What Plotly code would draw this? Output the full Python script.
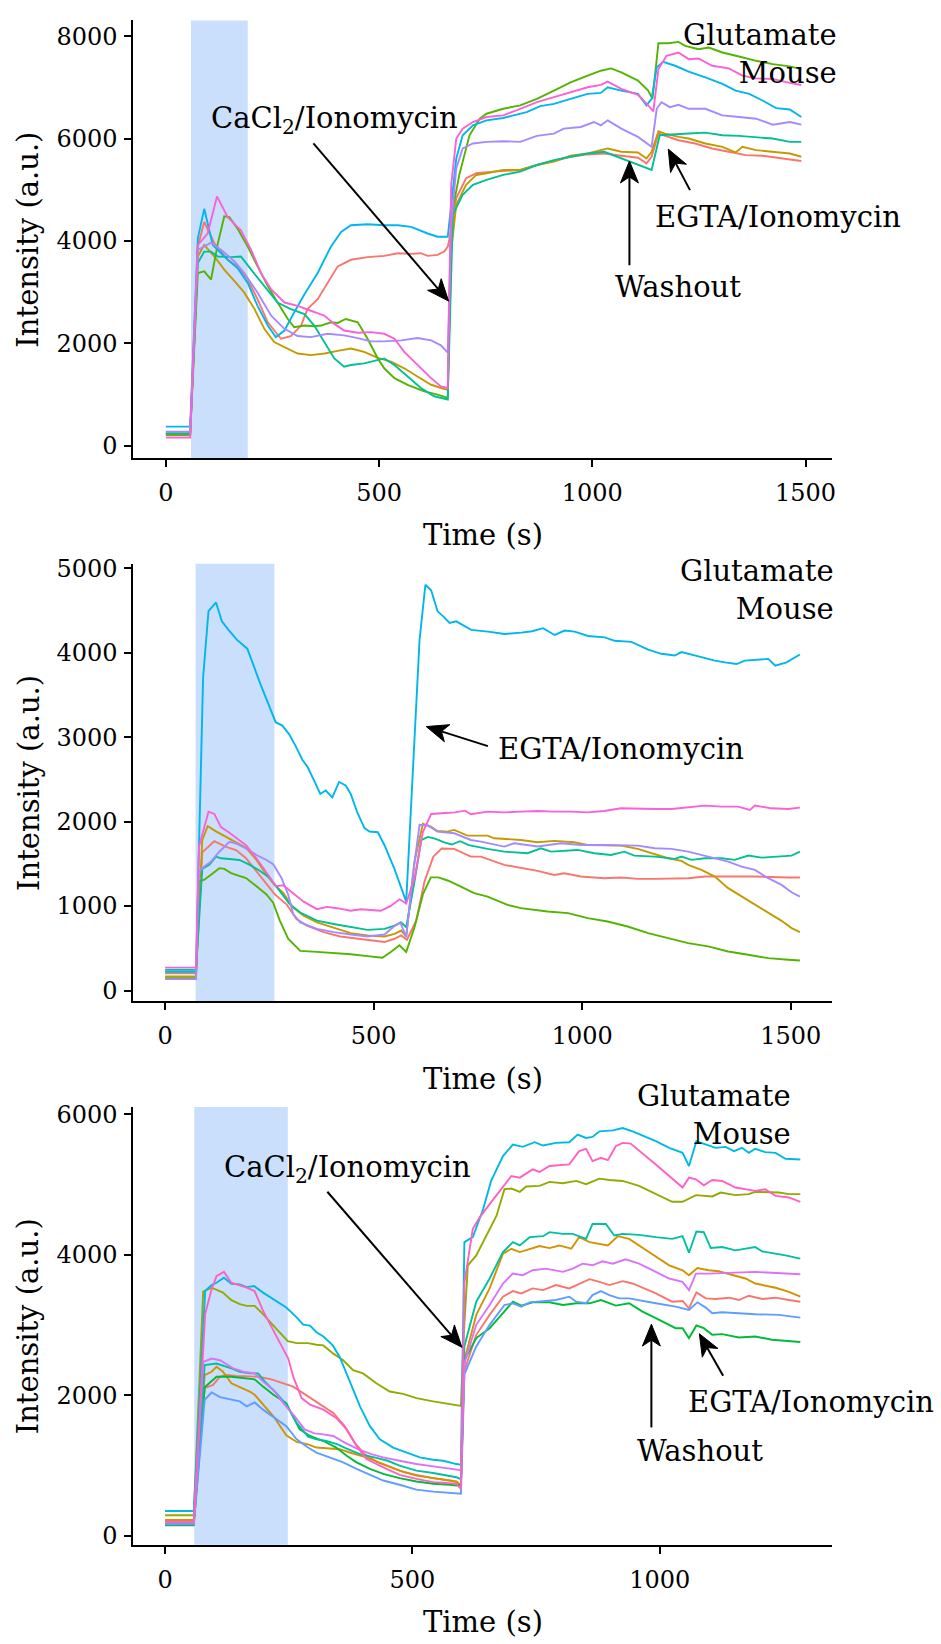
import math
import plotly.graph_objects as go

SERIF = "DejaVu Serif"

# ---------------- Panel 1 ----------------
p1_red_t = [0, 57, 75, 90, 114, 145, 168, 192, 215, 239, 270, 293, 317, 332, 356, 379, 403, 434, 473, 512, 544, 575, 598, 614, 637, 653, 661, 669, 681, 704, 728, 767, 799, 831, 870, 910, 949, 989, 1028, 1068, 1107, 1127, 1139, 1155, 1178, 1202, 1241, 1281, 1320, 1360, 1399, 1447, 1490]
p1_red_y = [200, 200, 3890, 4372, 3954, 3633, 3504, 3247, 2861, 2411, 2089, 2141, 2347, 2668, 2861, 3182, 3504, 3633, 3684, 3710, 3761, 3748, 3761, 3710, 3729, 3793, 3890, 4192, 4839, 5227, 5324, 5357, 5370, 5389, 5486, 5564, 5648, 5693, 5712, 5667, 5628, 5518, 5648, 6101, 6036, 5971, 5907, 5810, 5745, 5680, 5667, 5615, 5564]

p1_gold_t = [0, 57, 75, 90, 114, 137, 161, 184, 208, 231, 254, 278, 309, 340, 372, 403, 434, 465, 497, 528, 559, 590, 622, 653, 661, 669, 681, 704, 728, 752, 791, 831, 870, 910, 949, 989, 1036, 1068, 1107, 1127, 1139, 1155, 1170, 1202, 1226, 1265, 1305, 1336, 1352, 1384, 1423, 1463, 1490]
p1_gold_y = [230, 230, 3697, 3922, 3697, 3440, 3215, 2990, 2668, 2283, 2025, 1929, 1800, 1768, 1800, 1852, 1897, 1832, 1716, 1640, 1511, 1350, 1189, 1106, 1093, 3804, 4710, 5098, 5292, 5324, 5389, 5389, 5486, 5551, 5667, 5712, 5810, 5745, 5732, 5615, 5745, 6146, 6101, 6036, 6004, 5907, 5842, 5732, 5842, 5777, 5745, 5712, 5648]

p1_green_t = [0, 57, 75, 90, 106, 122, 137, 149, 168, 192, 215, 239, 262, 286, 301, 325, 348, 364, 387, 403, 422, 450, 473, 497, 512, 536, 567, 606, 637, 661, 669, 688, 712, 736, 752, 791, 831, 870, 910, 949, 989, 1020, 1044, 1068, 1107, 1131, 1141, 1155, 1178, 1202, 1218, 1249, 1273, 1305, 1344, 1384, 1423, 1463, 1490]
p1_green_y = [210, 210, 3375, 3408, 3247, 3954, 4481, 4468, 4243, 3890, 3504, 3118, 2797, 2475, 2314, 2347, 2334, 2347, 2411, 2398, 2475, 2411, 2089, 1704, 1511, 1318, 1189, 1060, 996, 932, 4451, 5292, 6068, 6392, 6489, 6586, 6651, 6780, 6942, 7104, 7233, 7330, 7375, 7298, 7136, 6942, 6780, 7867, 7867, 7893, 7815, 7750, 7783, 7686, 7608, 7524, 7459, 7414, 7362]

p1_teal_t = [0, 57, 75, 90, 106, 122, 153, 176, 200, 231, 262, 293, 325, 348, 372, 395, 418, 434, 465, 489, 512, 536, 567, 598, 629, 661, 673, 696, 720, 752, 791, 831, 870, 910, 949, 989, 1028, 1068, 1107, 1139, 1158, 1178, 1226, 1265, 1305, 1344, 1384, 1423, 1463, 1490]
p1_teal_y = [240, 240, 3568, 3793, 3793, 3697, 3684, 3697, 3440, 3118, 2797, 2668, 2571, 2347, 2025, 1704, 1543, 1575, 1607, 1652, 1704, 1575, 1350, 1125, 964, 900, 4516, 4904, 5098, 5195, 5292, 5357, 5486, 5583, 5648, 5712, 5745, 5615, 5486, 5389, 6068, 6081, 6101, 6120, 6068, 6055, 6036, 6004, 5939, 5939]

p1_cyan_t = [0, 57, 75, 90, 110, 145, 168, 192, 215, 239, 258, 278, 301, 325, 356, 387, 411, 434, 473, 512, 544, 575, 614, 637, 661, 669, 681, 696, 720, 752, 791, 815, 846, 878, 910, 949, 989, 1020, 1036, 1068, 1107, 1127, 1139, 1151, 1166, 1194, 1226, 1265, 1305, 1336, 1368, 1399, 1431, 1463, 1490]
p1_cyan_y = [370, 370, 4051, 4629, 3922, 3633, 3472, 3182, 2732, 2347, 2121, 2250, 2604, 2957, 3375, 3890, 4179, 4308, 4327, 4308, 4308, 4276, 4147, 4083, 4083, 4710, 5615, 6068, 6262, 6360, 6405, 6457, 6521, 6638, 6683, 6780, 6877, 6897, 7006, 6942, 6877, 6651, 6780, 7395, 7505, 7427, 7311, 7201, 7071, 6942, 6877, 6748, 6599, 6573, 6424]

p1_purple_t = [0, 57, 75, 106, 130, 161, 184, 215, 247, 278, 309, 340, 379, 418, 450, 481, 512, 552, 590, 622, 645, 661, 669, 681, 696, 720, 752, 791, 831, 870, 910, 933, 973, 1004, 1020, 1036, 1068, 1107, 1139, 1151, 1162, 1182, 1202, 1226, 1265, 1305, 1344, 1384, 1423, 1463, 1490]
p1_purple_y = [270, 270, 3825, 3967, 3825, 3600, 3375, 2990, 2539, 2283, 2141, 2121, 2186, 2154, 2102, 2038, 2038, 2057, 2102, 2057, 1961, 1819, 4322, 5421, 5809, 5907, 5939, 5952, 5939, 6055, 6101, 6198, 6230, 6327, 6262, 6360, 6198, 6036, 5842, 6586, 6715, 6618, 6664, 6586, 6586, 6457, 6424, 6392, 6275, 6327, 6275]

p1_pink_t = [0, 57, 75, 98, 120, 145, 176, 200, 223, 247, 278, 309, 340, 372, 395, 418, 450, 481, 512, 536, 559, 590, 622, 645, 661, 669, 681, 696, 720, 752, 791, 831, 870, 910, 949, 989, 1020, 1036, 1068, 1107, 1131, 1143, 1155, 1174, 1202, 1226, 1249, 1281, 1320, 1352, 1384, 1423, 1463, 1490]
p1_pink_y = [155, 155, 3922, 4147, 4873, 4468, 4211, 3825, 3375, 3054, 2797, 2732, 2636, 2539, 2379, 2250, 2205, 2218, 2186, 2089, 1832, 1575, 1318, 1157, 1125, 5098, 6004, 6198, 6327, 6424, 6457, 6586, 6715, 6812, 6909, 7006, 7052, 7117, 6974, 6858, 6651, 6534, 7362, 7621, 7686, 7556, 7569, 7427, 7375, 7233, 7181, 7168, 7091, 7052]

# ---------------- Panel 2 ----------------
p2_red_t = [0, 74, 89, 118, 146, 170, 194, 219, 243, 263, 291, 315, 340, 380, 420, 461, 501, 526, 550, 566, 580, 602, 622, 643, 663, 693, 733, 757, 813, 853, 893, 933, 957, 997, 1053, 1093, 1133, 1174, 1254, 1294, 1414, 1494, 1522]
p2_red_y = [205, 205, 1636, 1768, 1702, 1663, 1566, 1410, 1255, 1138, 1021, 846, 768, 691, 640, 613, 594, 574, 613, 652, 601, 827, 1293, 1585, 1682, 1677, 1586, 1586, 1488, 1456, 1417, 1369, 1389, 1350, 1330, 1338, 1322, 1322, 1330, 1350, 1350, 1338, 1338]

p2_gold_t = [0, 74, 89, 102, 122, 146, 170, 194, 219, 243, 263, 283, 307, 332, 364, 404, 445, 485, 526, 550, 566, 578, 598, 618, 637, 653, 677, 693, 725, 773, 789, 853, 893, 933, 981, 1013, 1093, 1133, 1165, 1206, 1238, 1254, 1286, 1318, 1350, 1382, 1414, 1454, 1478, 1502, 1522]
p2_gold_y = [166, 166, 1780, 1947, 1885, 1818, 1760, 1690, 1546, 1371, 1247, 1157, 982, 885, 807, 741, 679, 652, 640, 671, 710, 640, 1527, 1974, 1941, 1889, 1882, 1902, 1835, 1835, 1803, 1783, 1756, 1772, 1756, 1724, 1716, 1677, 1626, 1567, 1535, 1488, 1429, 1350, 1212, 1113, 1015, 896, 825, 739, 691]

p2_green_t = [0, 74, 81, 94, 110, 130, 142, 158, 174, 194, 219, 243, 259, 275, 295, 324, 364, 404, 445, 485, 521, 541, 562, 578, 598, 618, 637, 655, 679, 709, 741, 773, 821, 853, 917, 966, 1013, 1061, 1109, 1158, 1206, 1254, 1302, 1350, 1398, 1446, 1494, 1522]
p2_green_y = [146, 146, 1293, 1313, 1371, 1449, 1441, 1391, 1363, 1332, 1235, 1138, 1041, 827, 613, 469, 457, 446, 430, 407, 388, 457, 535, 457, 749, 1138, 1340, 1340, 1300, 1231, 1153, 1113, 1015, 975, 936, 916, 857, 817, 758, 679, 620, 561, 522, 462, 423, 383, 364, 356]

p2_teal_t = [0, 74, 89, 106, 122, 134, 154, 178, 203, 227, 251, 275, 299, 324, 364, 404, 445, 485, 526, 550, 566, 578, 598, 614, 630, 647, 671, 687, 707, 728, 773, 813, 869, 901, 925, 989, 1029, 1069, 1101, 1125, 1174, 1222, 1238, 1262, 1294, 1334, 1366, 1398, 1430, 1462, 1502, 1522]
p2_teal_y = [244, 244, 1441, 1488, 1585, 1566, 1558, 1546, 1488, 1418, 1332, 1177, 1021, 924, 827, 788, 749, 718, 730, 769, 807, 749, 1293, 1780, 1819, 1799, 1752, 1729, 1768, 1721, 1677, 1645, 1626, 1685, 1645, 1665, 1626, 1606, 1645, 1598, 1586, 1559, 1586, 1547, 1567, 1567, 1547, 1598, 1574, 1586, 1598, 1645]

p2_cyan_t = [0, 74, 91, 104, 122, 136, 152, 173, 197, 229, 265, 281, 297, 313, 329, 341, 357, 372, 385, 401, 417, 433, 445, 461, 478, 490, 510, 526, 550, 578, 610, 624, 638, 653, 666, 682, 698, 718, 734, 774, 814, 854, 880, 906, 934, 958, 982, 1014, 1054, 1078, 1118, 1158, 1190, 1222, 1238, 1286, 1318, 1342, 1370, 1390, 1422, 1446, 1463, 1490, 1522]
p2_cyan_y = [223, 223, 3705, 4494, 4596, 4373, 4272, 4150, 4049, 3624, 3178, 3138, 3037, 2895, 2733, 2652, 2490, 2328, 2369, 2288, 2470, 2429, 2328, 2106, 1923, 1883, 1875, 1721, 1437, 1053, 4150, 4806, 4737, 4494, 4434, 4353, 4373, 4312, 4272, 4251, 4223, 4239, 4255, 4292, 4211, 4264, 4251, 4199, 4183, 4142, 4130, 4037, 3988, 3968, 4008, 3948, 3907, 3887, 3867, 3907, 3915, 3928, 3847, 3887, 3980]

p2_purple_t = [0, 74, 81, 94, 110, 130, 154, 170, 194, 219, 243, 259, 279, 295, 307, 324, 364, 404, 445, 485, 526, 546, 564, 578, 594, 610, 630, 653, 693, 733, 757, 813, 837, 893, 949, 997, 1053, 1093, 1133, 1174, 1214, 1254, 1286, 1318, 1350, 1382, 1414, 1446, 1478, 1502, 1522]
p2_purple_y = [135, 135, 1410, 1468, 1527, 1644, 1760, 1741, 1682, 1605, 1546, 1496, 1332, 1138, 905, 807, 730, 691, 663, 640, 663, 749, 807, 632, 1371, 1962, 1955, 1882, 1862, 1783, 1764, 1705, 1744, 1705, 1744, 1724, 1724, 1716, 1716, 1685, 1677, 1645, 1606, 1567, 1527, 1468, 1429, 1330, 1251, 1164, 1113]

p2_pink_t = [0, 74, 81, 104, 118, 134, 154, 174, 194, 219, 243, 266, 283, 307, 332, 364, 388, 412, 445, 469, 493, 517, 541, 562, 578, 598, 618, 638, 671, 695, 719, 733, 773, 813, 853, 893, 933, 973, 1013, 1053, 1093, 1133, 1174, 1214, 1254, 1294, 1334, 1374, 1402, 1414, 1454, 1494, 1522]
p2_pink_y = [271, 271, 1700, 2118, 2091, 1935, 1869, 1799, 1721, 1566, 1391, 1235, 1247, 1157, 1052, 963, 990, 975, 944, 963, 951, 944, 1002, 1080, 1029, 1332, 1877, 2091, 2102, 2110, 2130, 2087, 2119, 2110, 2119, 2126, 2119, 2119, 2110, 2126, 2158, 2150, 2150, 2150, 2166, 2190, 2178, 2178, 2138, 2190, 2158, 2150, 2166]

# ---------------- Panel 3 ----------------
p3_red_t = [0, 58, 80, 97, 111, 124, 144, 165, 188, 215, 239, 259, 279, 299, 320, 340, 363, 383, 403, 430, 457, 484, 508, 542, 575, 589, 598, 605, 629, 656, 683, 703, 720, 743, 764, 790, 817, 841, 858, 878, 898, 925, 945, 992, 1025, 1046, 1059, 1074, 1093, 1113, 1140, 1160, 1180, 1207, 1234, 1261, 1284]
p3_red_y = [203, 203, 2102, 2149, 2266, 2289, 2275, 2266, 2266, 2228, 2172, 2125, 2032, 1938, 1844, 1750, 1562, 1328, 1164, 1047, 976, 906, 869, 822, 789, 766, 700, 2350, 2862, 3145, 3404, 3484, 3451, 3522, 3498, 3569, 3522, 3592, 3653, 3616, 3569, 3625, 3592, 3451, 3333, 3343, 3239, 3465, 3380, 3371, 3390, 3357, 3418, 3371, 3390, 3357, 3333]

p3_orange_t = [0, 58, 80, 94, 104, 117, 134, 151, 171, 181, 198, 219, 245, 266, 289, 306, 333, 353, 373, 407, 441, 474, 508, 542, 575, 589, 598, 605, 629, 656, 683, 700, 717, 737, 757, 777, 797, 821, 837, 858, 878, 895, 915, 938, 978, 1019, 1046, 1059, 1076, 1099, 1119, 1146, 1173, 1193, 1234, 1261, 1284]
p3_orange_y = [228, 228, 2289, 2336, 2407, 2336, 2172, 2116, 2055, 2008, 1867, 1703, 1431, 1337, 1304, 1258, 1244, 1234, 1187, 1117, 1023, 929, 859, 822, 789, 775, 719, 2500, 3145, 3522, 4016, 4086, 4039, 4086, 4124, 4096, 4133, 4086, 4251, 4180, 4157, 4133, 4265, 4227, 4039, 3851, 3780, 3710, 3813, 3780, 3766, 3710, 3663, 3592, 3531, 3474, 3404]

p3_olive_t = [0, 58, 77, 94, 117, 134, 151, 165, 181, 198, 219, 248, 266, 289, 306, 320, 340, 360, 380, 400, 427, 454, 481, 508, 542, 562, 590, 598, 604, 612, 629, 649, 670, 686, 700, 717, 730, 757, 777, 804, 831, 851, 878, 898, 925, 958, 992, 1025, 1046, 1073, 1106, 1123, 1153, 1180, 1193, 1241, 1261, 1284]
p3_olive_y = [294, 294, 3476, 3532, 3462, 3354, 3297, 3274, 3274, 3157, 2993, 2772, 2744, 2744, 2721, 2711, 2594, 2500, 2360, 2313, 2172, 2055, 2022, 1961, 1914, 1891, 1858, 1850, 2900, 3851, 3992, 4275, 4557, 4933, 4943, 4896, 4971, 4980, 5037, 5018, 5051, 5004, 5084, 5065, 5051, 4980, 4862, 4754, 4754, 4849, 4830, 4886, 4849, 4863, 4896, 4886, 4863, 4863]

p3_green_t = [0, 58, 80, 104, 134, 151, 181, 198, 219, 245, 259, 272, 293, 320, 346, 367, 387, 414, 441, 474, 508, 542, 575, 589, 598, 605, 629, 656, 683, 703, 720, 743, 777, 804, 831, 858, 881, 911, 938, 965, 992, 1032, 1046, 1059, 1074, 1089, 1106, 1126, 1160, 1193, 1227, 1261, 1284]
p3_green_y = [152, 152, 2116, 2266, 2266, 2256, 2228, 2125, 2008, 1891, 1703, 1516, 1422, 1351, 1258, 1140, 1047, 953, 882, 822, 775, 742, 728, 719, 734, 2500, 2815, 2956, 3169, 3333, 3277, 3324, 3324, 3286, 3310, 3310, 3357, 3277, 3310, 3192, 3098, 2956, 2956, 2815, 2994, 2956, 2862, 2871, 2824, 2838, 2791, 2777, 2759]

p3_teal_t = [0, 58, 80, 104, 134, 151, 171, 188, 205, 225, 245, 266, 289, 306, 326, 349, 367, 394, 423, 450, 474, 508, 542, 575, 589, 598, 605, 629, 656, 683, 703, 717, 737, 764, 777, 804, 824, 851, 864, 891, 908, 925, 958, 992, 1025, 1046, 1059, 1074, 1089, 1103, 1126, 1153, 1193, 1207, 1254, 1284]
p3_teal_y = [177, 177, 2430, 2453, 2383, 2336, 2313, 2313, 2172, 2032, 1868, 1609, 1412, 1375, 1351, 1304, 1244, 1164, 1117, 1070, 1000, 929, 896, 859, 835, 810, 2700, 3333, 3663, 4039, 4180, 4133, 4251, 4265, 4322, 4298, 4298, 4227, 4439, 4439, 4275, 4298, 4284, 4251, 4227, 4265, 4030, 4331, 4322, 4096, 4110, 4063, 4110, 4048, 3992, 3945]

p3_cyan_t = [0, 58, 81, 94, 104, 119, 134, 151, 165, 180, 198, 219, 245, 266, 279, 293, 306, 320, 339, 353, 367, 380, 394, 414, 434, 461, 488, 515, 542, 562, 589, 598, 605, 622, 643, 659, 683, 703, 723, 747, 764, 790, 817, 834, 851, 864, 878, 905, 925, 945, 992, 1019, 1046, 1059, 1074, 1093, 1113, 1133, 1150, 1166, 1180, 1193, 1213, 1234, 1254, 1284]
p3_cyan_y = [354, 354, 3485, 3569, 3602, 3673, 3588, 3579, 3541, 3555, 3462, 3368, 3251, 3110, 3007, 2993, 2899, 2838, 2711, 2547, 2313, 2078, 1844, 1562, 1375, 1258, 1187, 1117, 1084, 1070, 1023, 1013, 4180, 4251, 4651, 5051, 5404, 5569, 5536, 5602, 5555, 5592, 5602, 5710, 5663, 5677, 5757, 5771, 5804, 5757, 5616, 5522, 5451, 5263, 5616, 5569, 5522, 5536, 5475, 5522, 5451, 5508, 5461, 5451, 5366, 5357]

p3_blue_t = [0, 58, 80, 94, 111, 134, 151, 165, 181, 198, 225, 245, 266, 289, 306, 333, 360, 387, 414, 441, 474, 508, 542, 575, 589, 598, 605, 629, 656, 686, 703, 720, 737, 764, 790, 817, 831, 851, 864, 881, 898, 918, 938, 992, 1032, 1059, 1076, 1093, 1106, 1126, 1153, 1193, 1241, 1284]
p3_blue_y = [165, 165, 1938, 2041, 1975, 1938, 1914, 1844, 1900, 1797, 1656, 1562, 1375, 1258, 1187, 1117, 1047, 953, 869, 789, 728, 660, 630, 615, 608, 600, 2300, 2697, 3004, 3286, 3310, 3263, 3324, 3343, 3357, 3404, 3333, 3310, 3427, 3484, 3427, 3380, 3380, 3310, 3263, 3216, 3324, 3249, 3169, 3183, 3169, 3155, 3145, 3107]

p3_violet_t = [0, 58, 77, 94, 111, 121, 138, 158, 181, 198, 219, 239, 262, 282, 302, 320, 340, 363, 390, 417, 441, 474, 508, 542, 575, 589, 598, 605, 629, 656, 683, 703, 723, 743, 770, 804, 824, 844, 864, 884, 905, 931, 958, 992, 1019, 1046, 1059, 1073, 1099, 1193, 1284]
p3_violet_y = [190, 190, 2477, 2524, 2500, 2453, 2383, 2336, 2313, 2196, 2078, 1891, 1703, 1516, 1459, 1445, 1422, 1328, 1234, 1164, 1117, 1070, 1023, 990, 953, 943, 937, 2450, 3004, 3286, 3592, 3733, 3710, 3780, 3804, 3757, 3804, 3874, 3851, 3907, 3874, 3936, 3874, 3757, 3663, 3616, 3498, 3733, 3733, 3757, 3724]

p3_pink_t = [0, 58, 81, 94, 104, 119, 134, 151, 165, 181, 198, 219, 236, 249, 259, 276, 293, 320, 346, 367, 387, 407, 441, 474, 508, 542, 562, 589, 598, 605, 622, 636, 656, 676, 700, 717, 743, 757, 777, 817, 837, 851, 864, 881, 895, 911, 925, 941, 992, 1046, 1059, 1073, 1089, 1106, 1126, 1153, 1173, 1193, 1213, 1234, 1261, 1284]
p3_pink_y = [203, 203, 3157, 3509, 3696, 3757, 3602, 3569, 3532, 3485, 3204, 2922, 2688, 2524, 2266, 1961, 1867, 1797, 1680, 1516, 1281, 1094, 976, 869, 812, 766, 756, 742, 668, 3600, 4369, 4533, 4722, 4910, 5122, 5098, 5216, 5178, 5263, 5286, 5475, 5508, 5333, 5380, 5347, 5545, 5592, 5583, 5286, 4957, 5098, 5074, 4990, 5065, 5051, 4957, 4933, 4910, 4933, 4839, 4816, 4754]

# ggplot-style hue palettes (7 and 9 levels)
HUE7 = {"red": "#F8766D", "gold": "#C49A00", "green": "#53B400", "teal": "#00C094",
        "cyan": "#00B6EB", "purple": "#A58AFF", "pink": "#FB61D7"}
HUE9 = {"red": "#F8766D", "orange": "#D39200", "olive": "#93AA00", "green": "#00BA38",
        "teal": "#00C19F", "cyan": "#00B9E3", "blue": "#619CFF", "violet": "#DB72FB",
        "pink": "#FF61C3"}

panel1 = [("red", p1_red_t, p1_red_y), ("gold", p1_gold_t, p1_gold_y),
          ("green", p1_green_t, p1_green_y), ("teal", p1_teal_t, p1_teal_y),
          ("cyan", p1_cyan_t, p1_cyan_y), ("purple", p1_purple_t, p1_purple_y),
          ("pink", p1_pink_t, p1_pink_y)]
panel2 = [("red", p2_red_t, p2_red_y), ("gold", p2_gold_t, p2_gold_y),
          ("green", p2_green_t, p2_green_y), ("teal", p2_teal_t, p2_teal_y),
          ("cyan", p2_cyan_t, p2_cyan_y), ("purple", p2_purple_t, p2_purple_y),
          ("pink", p2_pink_t, p2_pink_y)]
panel3 = [("red", p3_red_t, p3_red_y), ("orange", p3_orange_t, p3_orange_y),
          ("olive", p3_olive_t, p3_olive_y), ("green", p3_green_t, p3_green_y),
          ("teal", p3_teal_t, p3_teal_y), ("cyan", p3_cyan_t, p3_cyan_y),
          ("blue", p3_blue_t, p3_blue_y), ("violet", p3_violet_t, p3_violet_y),
          ("pink", p3_pink_t, p3_pink_y)]

# stimulation windows (shaded)
stim_windows = [(59, 192), (73, 262), (59, 248)]

# axis ranges and ticks
x_ranges = [(-76, 1563), (-76, 1600), (-64, 1349)]
y_ranges = [(-246, 8314), (-130, 5055), (-126, 6102)]
x_ticks = [[0, 500, 1000, 1500], [0, 500, 1000, 1500], [0, 500, 1000]]
y_ticks = [[0, 2000, 4000, 6000, 8000], [0, 1000, 2000, 3000, 4000, 5000], [0, 2000, 4000, 6000]]

W, H = 941, 1644
BLOCK = 548          # each panel occupies one third of the page height
PLOT_TOP, PLOT_BOTTOM = 11.5, 453
PLOT_LEFT, PLOT_RIGHT = 134, 836
boxes = [(PLOT_LEFT, PLOT_RIGHT, k * BLOCK + PLOT_TOP, k * BLOCK + PLOT_BOTTOM) for k in range(3)]


def to_px(k, x, y):
    l, r, t, b = boxes[k]
    x0, x1 = x_ranges[k]
    y0, y1 = y_ranges[k]
    return l + (x - x0) / (x1 - x0) * (r - l), b - (y - y0) / (y1 - y0) * (b - t)


def to_data(k, px, py):
    l, r, t, b = boxes[k]
    x0, x1 = x_ranges[k]
    y0, y1 = y_ranges[k]
    return x0 + (px - l) / (r - l) * (x1 - x0), y0 + (b - py) / (b - t) * (y1 - y0)


fig = go.Figure()

for k, (panel, pal) in enumerate([(panel1, HUE7), (panel2, HUE7), (panel3, HUE9)]):
    xa = "x" if k == 0 else f"x{k+1}"
    ya = "y" if k == 0 else f"y{k+1}"
    for name, t, v in panel:
        assert len(t) == len(v), (k, name, len(t), len(v))
        fig.add_trace(go.Scatter(x=t, y=v, mode="lines", xaxis=xa, yaxis=ya,
                                 line=dict(color=pal[name], width=1.9),
                                 showlegend=False, hoverinfo="skip"))

axis_common = dict(showline=True, linecolor="black", linewidth=2, ticks="outside",
                   ticklen=7, tickwidth=2, tickcolor="black", showgrid=False,
                   zeroline=False, tickfont=dict(family=SERIF, size=24, color="black"))

layout = dict(width=W, height=H, margin=dict(l=0, r=0, t=0, b=0),
              plot_bgcolor="white", paper_bgcolor="white", showlegend=False)

shapes = []
annotations = []
TITLE_FONT = dict(family=SERIF, size=29, color="black")
for k in range(3):
    l, r, t, b = boxes[k]
    xs = "" if k == 0 else str(k + 1)
    layout["xaxis" + xs] = dict(axis_common, domain=[l / W, r / W], range=list(x_ranges[k]),
                                tickvals=x_ticks[k], anchor="y" + xs, ticklabelstandoff=5)
    layout["yaxis" + xs] = dict(axis_common, domain=[1 - b / H, 1 - t / H], range=list(y_ranges[k]),
                                tickvals=y_ticks[k], anchor="x" + xs, ticklabelstandoff=2)
    shapes.append(dict(type="rect", xref="x" + xs, yref="y" + xs + " domain",
                       x0=stim_windows[k][0], x1=stim_windows[k][1], y0=0, y1=1,
                       fillcolor="#C9DFFB", line=dict(width=0), layer="below"))
    annotations.append(dict(text="Intensity (a.u.)", textangle=-90, xref="paper", yref="paper",
                            x=28.5 / W, y=1 - (t + b) / 2 / H, showarrow=False,
                            font=TITLE_FONT, xanchor="center", yanchor="middle"))
    annotations.append(dict(text="Time (s)", xref="paper", yref="paper",
                            x=(l + r) / 2 / W, y=1 - (b + 78) / H, showarrow=False,
                            font=TITLE_FONT, xanchor="center", yanchor="middle"))

LABEL_FONT = dict(family=SERIF, size=29, color="black")


def label(text, x, y, k, xanchor="center"):
    xs = "" if k == 0 else str(k + 1)
    annotations.append(dict(text=text, x=x, y=y, xref="x" + xs, yref="y" + xs,
                            showarrow=False, font=LABEL_FONT, xanchor=xanchor, yanchor="middle"))


def arrow(tip, tail, k, head_len=22, head_half=9, notch=6):
    """Straight arrow drawn as a line plus a filled head, built in pixel space."""
    xs = "" if k == 0 else str(k + 1)
    px, py = to_px(k, *tip)
    qx, qy = to_px(k, *tail)
    dx, dy = px - qx, py - qy
    n = math.hypot(dx, dy)
    ux, uy = dx / n, dy / n
    nx, ny = -uy, ux
    back_x, back_y = px - head_len * ux, py - head_len * uy
    pts = [(px, py),
           (back_x + head_half * nx, back_y + head_half * ny),
           (px - (head_len - notch) * ux, py - (head_len - notch) * uy),
           (back_x - head_half * nx, back_y - head_half * ny)]
    d = [to_data(k, a, b) for a, b in pts]
    path = "M {},{} L {},{} L {},{} L {},{} Z".format(*[c for p in d for c in p])
    shapes.append(dict(type="path", path=path, xref="x" + xs, yref="y" + xs,
                       fillcolor="black", line=dict(color="black", width=1)))
    shapes.append(dict(type="line", xref="x" + xs, yref="y" + xs,
                       x0=tail[0], y0=tail[1], x1=d[2][0], y1=d[2][1],
                       line=dict(color="black", width=2)))


def corner_label(k, right_px, mid_px):
    annotations.append(dict(text="Glutamate<br>Mouse", xref="paper", yref="paper",
                            x=right_px / W, y=1 - (k * BLOCK + mid_px) / H, showarrow=False,
                            font=LABEL_FONT, xanchor="right", yanchor="middle", align="right"))


# panel 1 labels
label("CaCl<sub>2</sub>/Ionomycin", 396, 6364, 0)
arrow((663, 2825), (346, 5910), 0)
label("Washout", 1202, 3092, 0)
arrow((1087, 5563), (1087, 3526), 0)
label("EGTA/Ionomycin", 1436, 4461, 0)
arrow((1178, 5797), (1229, 4995), 0)
corner_label(0, 843, 45)

# panel 2 labels
arrow((626, 3126), (774, 2895), 1)
label("EGTA/Ionomycin", 794, 2863, 1, xanchor="left")
corner_label(1, 840, 38)

# panel 3 labels
label("CaCl<sub>2</sub>/Ionomycin", 369, 5215, 2)
arrow((600, 2684), (328, 4897), 2)
label("Washout", 1081, 1215, 2)
arrow((983, 3012), (983, 1544), 2)
label("EGTA/Ionomycin", 1306, 1899, 2)
arrow((1080, 2876), (1128, 2278), 2)
corner_label(2, 796, 20)

layout["shapes"] = shapes
layout["annotations"] = annotations
fig.update_layout(**layout)

fig.write_html("out.html", config={"displayModeBar": False})
